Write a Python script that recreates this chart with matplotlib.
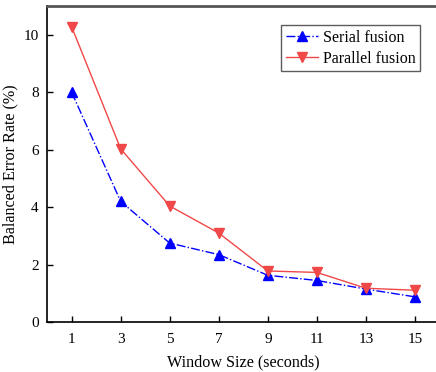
import matplotlib
matplotlib.use("Agg")
import matplotlib.pyplot as plt

window = [1, 3, 5, 7, 9, 11, 13, 15]
serial = [8.0, 4.2, 2.75, 2.35, 1.63, 1.45, 1.15, 0.88]
parallel = [10.28, 6.03, 4.04, 3.1, 1.78, 1.73, 1.18, 1.11]
xticks = [1, 3, 5, 7, 9, 11, 13, 15]
yticks = [0, 2, 4, 6, 8, 10]

plt.rcParams['font.family'] = ['Liberation Serif', 'DejaVu Serif']
fig = plt.figure(figsize=(4.36, 3.72), dpi=100)
ax = fig.add_axes([0.108, 0.134, 0.9, 0.85])

ax.plot(window, serial, color='#0000ff', linestyle='-.', linewidth=1.0,
        marker='^', markersize=7.5, label='Serial fusion')
ax.plot(window, parallel, color='#f04848', linestyle='-', linewidth=1.0,
        marker='v', markersize=7.5, label='Parallel fusion')

ax.set_xlim(0, 16)
ax.set_ylim(0, 11)
ax.set_xticks(xticks)
ax.set_yticks(yticks)
ax.tick_params(direction='in', length=4, width=1, labelsize=11, colors='black')
ax.tick_params(axis='x', pad=8)
ax.tick_params(axis='y', pad=6)
ax.set_xlabel('Window Size (seconds)', fontsize=11.6, labelpad=6)
ax.set_ylabel('Balanced Error Rate (%)', fontsize=11.6, labelpad=4)

for s in ['left', 'bottom']:
    ax.spines[s].set_linewidth(1.2)
    ax.spines[s].set_color('black')
ax.spines['top'].set_linewidth(2)
ax.spines['top'].set_color('#555555')
ax.spines['right'].set_visible(False)

leg = ax.legend(loc='upper left', bbox_to_anchor=(0.597, 0.94), fontsize=11.5,
                frameon=True, fancybox=False, edgecolor='#333333',
                borderpad=0.3, handlelength=2.0, handletextpad=0.3,
                labelspacing=0.3, borderaxespad=0)
leg.get_frame().set_linewidth(1.0)

fig.savefig('out.png', dpi=100)
